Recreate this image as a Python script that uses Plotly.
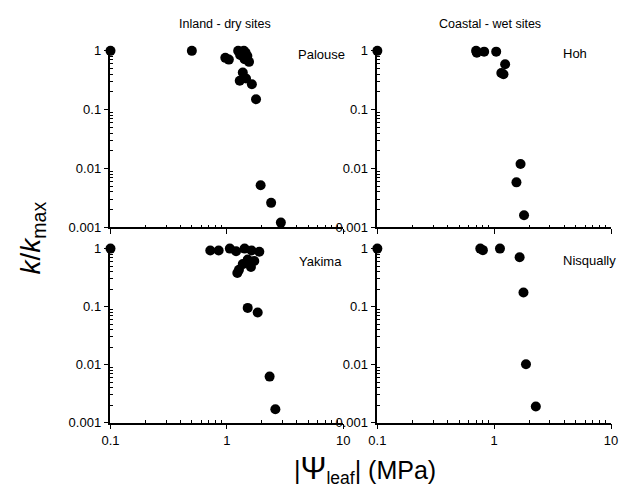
import plotly.graph_objects as go

# Palouse (inland, dry)
palouse_psi = [0.1, 0.5, 0.97, 1.04, 1.25, 1.32, 1.40, 1.45, 1.30, 1.38, 1.50, 1.42, 1.55,
               1.37, 1.29, 1.46, 1.64, 1.78, 1.95, 2.40, 2.91]
palouse_k = [1.0, 1.0, 0.76, 0.71, 1.0, 0.97, 1.0, 0.93, 0.85, 0.80, 0.82, 0.72, 0.65,
             0.43, 0.31, 0.34, 0.27, 0.15, 0.0052, 0.0026, 0.0012]

# Hoh (coastal, wet)
hoh_psi = [0.1, 0.70, 0.71, 0.82, 1.04, 1.24, 1.15, 1.20, 1.68, 1.55, 1.80]
hoh_k = [1.0, 1.0, 0.93, 0.97, 0.97, 0.59, 0.42, 0.40, 0.0119, 0.0058, 0.0016]

# Yakima (inland, dry)
yakima_psi = [0.1, 0.72, 0.85, 1.06, 1.20, 1.42, 1.63, 1.90, 1.51, 1.72, 1.37, 1.61,
              1.27, 1.23, 1.51, 1.84, 2.33, 2.61]
yakima_k = [1.0, 0.93, 0.93, 1.0, 0.90, 1.0, 0.93, 0.88, 0.65, 0.61, 0.54, 0.48,
            0.43, 0.38, 0.095, 0.079, 0.0062, 0.0017]

# Nisqually (coastal, wet)
nisqually_psi = [0.1, 0.76, 0.80, 1.12, 1.65, 1.78, 1.87, 2.27]
nisqually_k = [1.0, 1.0, 0.94, 1.0, 0.71, 0.175, 0.0101, 0.0019]

x_ticks = [0.1, 1, 10]
x_labels = ["0.1", "1", "10"]
y_ticks = [0.001, 0.01, 0.1, 1]
y_labels = ["0.001", "0.01", "0.1", "1"]

# page body has an 8px margin, so the figure is drawn 8px in and made smaller
OFF = 8
W, H = 629 - 2 * OFF, 504 - 2 * OFF
FONT = "Liberation Sans, Arial, sans-serif"

def px_x(px):
    return (px - OFF) / W

def px_y(py):
    return 1 - (py - OFF) / H

panels = [
    (palouse_psi, palouse_k, "Palouse", "x", "y"),
    (hoh_psi, hoh_k, "Hoh", "x2", "y2"),
    (yakima_psi, yakima_k, "Yakima", "x3", "y3"),
    (nisqually_psi, nisqually_k, "Nisqually", "x4", "y4"),
]

fig = go.Figure()
for xs, ys, name, xa, ya in panels:
    fig.add_trace(go.Scatter(x=xs, y=ys, mode="markers", name=name, xaxis=xa, yaxis=ya,
                             marker=dict(color="black", size=10), cliponaxis=False,
                             showlegend=False))

minor_x = [0.2, 0.3, 0.4, 0.5, 0.6, 0.7, 0.8, 0.9, 2, 3, 4, 5, 6, 7, 8, 9]
minor_y = [m * 10 ** e for e in (-3, -2, -1) for m in range(2, 10)]

def xaxis(domain, anchor, labels=True):
    return dict(type="log", range=[-1, 1], domain=domain, anchor=anchor,
                tickmode="array", tickvals=x_ticks, ticktext=x_labels,
                showticklabels=labels,
                ticks="outside", ticklen=5, tickwidth=1.3, tickcolor="black",
                showline=True, linecolor="black", linewidth=1.5, showgrid=False,
                zeroline=False, tickfont=dict(size=13, color="black", family=FONT),
                minor=dict(tickvals=minor_x, ticks="inside", ticklen=3,
                           tickcolor="black", tickwidth=1, showgrid=False))

def yaxis(domain, anchor):
    return dict(type="log", range=[-3, 0], domain=domain, anchor=anchor,
                tickmode="array", tickvals=y_ticks, ticktext=y_labels,
                ticks="outside", ticklen=5, tickwidth=1.3, tickcolor="black",
                showline=True, linecolor="black", linewidth=1.5, showgrid=False,
                zeroline=False, tickfont=dict(size=13, color="black", family=FONT),
                minor=dict(tickvals=minor_y, ticks="inside", ticklen=3,
                           tickcolor="black", tickwidth=1, showgrid=False))

xl = [px_x(104), px_x(343)]
xr = [px_x(378), px_x(618)]
yt = [px_y(227), px_y(45)]
yb = [px_y(428.5), px_y(249)]

def ann(text, px, py, size, xanchor="left", **kw):
    return dict(text=text, x=px_x(px), y=px_y(py), xref="paper", yref="paper",
                xanchor=xanchor, yanchor="middle", showarrow=False,
                font=dict(size=size, color="black", family=FONT), **kw)

annotations = [
    ann("Palouse", 294, 49, 13),
    ann("Hoh", 567, 48, 13),
    ann("Yakima", 295, 262, 13),
    ann("Nisqually", 567, 261, 13),
    ann("Inland - dry sites", 222, 17, 12.5, "center"),
    ann("Coastal - wet sites", 494, 17, 12.5, "center"),
    ann("<i>k</i>/<i>k</i><sub>max</sub>", 24, 238, 28, "center", textangle=-90),
    ann("|<span style='font-size:31px'>Ψ</span><sub>leaf</sub>| (MPa)", 365, 477, 25, "center"),
]

fig.update_layout(
    width=W, height=H,
    margin=dict(l=0, r=0, t=0, b=0),
    paper_bgcolor="white", plot_bgcolor="white",
    font=dict(family=FONT, color="black"),
    xaxis=xaxis(xl, "y", False), yaxis=yaxis(yt, "x"),
    xaxis2=xaxis(xr, "y2", False), yaxis2=yaxis(yt, "x2"),
    xaxis3=xaxis(xl, "y3"), yaxis3=yaxis(yb, "x3"),
    xaxis4=xaxis(xr, "y4"), yaxis4=yaxis(yb, "x4"),
    annotations=annotations,
)

fig.write_html("out.html")
